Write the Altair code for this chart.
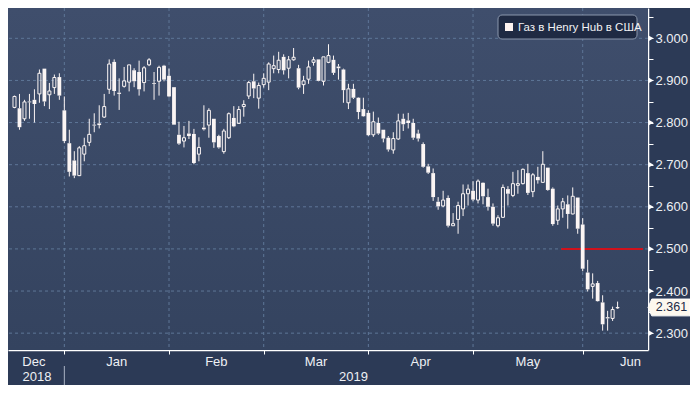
import altair as alt
import pandas as pd

# ---- data (one candle per trading day, Dec 2018 - Jun 2019) ----
opens = [2.836, 2.834, 2.809, 2.850, 2.854, 2.868, 2.928, 2.866, 2.883, 2.908,
         2.829, 2.751, 2.710, 2.674, 2.725, 2.753, 2.795, 2.798, 2.813, 2.879,
         2.944, 2.871, 2.886, 2.896, 2.924, 2.920, 2.895, 2.937, 2.894, 2.898,
         2.935, 2.911, 2.884, 2.771, 2.756, 2.774, 2.773, 2.725, 2.788, 2.794,
         2.809, 2.768, 2.731, 2.764, 2.811, 2.798, 2.838, 2.863, 2.898, 2.858,
         2.890, 2.896, 2.928, 2.926, 2.956, 2.929, 2.949, 2.929, 2.890, 2.903,
         2.943, 2.950, 2.898, 2.943, 2.949, 2.933, 2.926, 2.847, 2.880, 2.859,
         2.832, 2.823, 2.771, 2.799, 2.783, 2.764, 2.735, 2.761, 2.809, 2.805,
         2.799, 2.774, 2.749, 2.696, 2.680, 2.612, 2.602, 2.621, 2.555, 2.570,
         2.595, 2.631, 2.638, 2.616, 2.657, 2.623, 2.600, 2.555, 2.575, 2.642,
         2.627, 2.651, 2.655, 2.680, 2.636, 2.671, 2.658, 2.693, 2.643, 2.568,
         2.595, 2.606, 2.583, 2.622, 2.558, 2.444, 2.411, 2.419, 2.373, 2.338,
         2.335, 2.360]
highs = [2.864, 2.868, 2.854, 2.868, 2.879, 2.926, 2.928, 2.894, 2.914, 2.917,
         2.862, 2.783, 2.732, 2.744, 2.764, 2.809, 2.822, 2.841, 2.868, 2.950,
         2.950, 2.905, 2.932, 2.937, 2.929, 2.947, 2.934, 2.953, 2.920, 2.935,
         2.937, 2.928, 2.884, 2.802, 2.792, 2.804, 2.785, 2.765, 2.841, 2.834,
         2.809, 2.771, 2.785, 2.824, 2.839, 2.839, 2.853, 2.899, 2.916, 2.895,
         2.917, 2.943, 2.959, 2.968, 2.962, 2.958, 2.977, 2.937, 2.911, 2.947,
         2.956, 2.950, 2.956, 2.986, 2.959, 2.939, 2.928, 2.892, 2.892, 2.860,
         2.859, 2.829, 2.826, 2.812, 2.783, 2.768, 2.777, 2.821, 2.821, 2.823,
         2.809, 2.783, 2.753, 2.702, 2.691, 2.623, 2.638, 2.627, 2.585, 2.612,
         2.653, 2.653, 2.661, 2.665, 2.658, 2.643, 2.608, 2.580, 2.653, 2.649,
         2.683, 2.687, 2.691, 2.702, 2.680, 2.695, 2.732, 2.693, 2.646, 2.603,
         2.621, 2.627, 2.646, 2.622, 2.573, 2.474, 2.442, 2.424, 2.390, 2.353,
         2.363, 2.375]
lows = [2.834, 2.783, 2.804, 2.809, 2.800, 2.847, 2.839, 2.832, 2.868, 2.854,
        2.751, 2.672, 2.668, 2.673, 2.708, 2.744, 2.777, 2.786, 2.811, 2.868,
        2.864, 2.830, 2.883, 2.874, 2.884, 2.864, 2.874, 2.934, 2.854, 2.864,
        2.898, 2.860, 2.795, 2.747, 2.741, 2.761, 2.701, 2.708, 2.781, 2.764,
        2.740, 2.738, 2.726, 2.761, 2.789, 2.798, 2.814, 2.856, 2.858, 2.833,
        2.883, 2.877, 2.917, 2.917, 2.914, 2.905, 2.947, 2.879, 2.868, 2.892,
        2.935, 2.898, 2.888, 2.941, 2.913, 2.902, 2.847, 2.832, 2.856, 2.808,
        2.814, 2.768, 2.766, 2.771, 2.753, 2.731, 2.726, 2.759, 2.780, 2.786,
        2.759, 2.755, 2.693, 2.678, 2.614, 2.593, 2.599, 2.551, 2.555, 2.536,
        2.578, 2.603, 2.613, 2.608, 2.606, 2.591, 2.555, 2.551, 2.574, 2.603,
        2.623, 2.631, 2.653, 2.628, 2.623, 2.655, 2.658, 2.638, 2.555, 2.557,
        2.574, 2.548, 2.582, 2.536, 2.447, 2.399, 2.382, 2.375, 2.306, 2.306,
        2.329, 2.358]
closes = [2.862, 2.789, 2.849, 2.848, 2.844, 2.917, 2.850, 2.875, 2.907, 2.864,
          2.756, 2.683, 2.674, 2.740, 2.745, 2.772, 2.793, 2.794, 2.838, 2.939,
          2.875, 2.868, 2.899, 2.937, 2.898, 2.879, 2.930, 2.949, 2.892, 2.931,
          2.902, 2.862, 2.795, 2.750, 2.764, 2.768, 2.704, 2.741, 2.784, 2.829,
          2.753, 2.741, 2.780, 2.821, 2.791, 2.831, 2.843, 2.895, 2.881, 2.888,
          2.905, 2.939, 2.935, 2.948, 2.924, 2.949, 2.955, 2.883, 2.899, 2.932,
          2.949, 2.899, 2.956, 2.959, 2.918, 2.929, 2.877, 2.880, 2.859, 2.825,
          2.815, 2.770, 2.802, 2.774, 2.762, 2.736, 2.762, 2.804, 2.796, 2.799,
          2.764, 2.762, 2.695, 2.681, 2.623, 2.601, 2.616, 2.555, 2.560, 2.603,
          2.631, 2.642, 2.617, 2.661, 2.625, 2.600, 2.560, 2.574, 2.646, 2.631,
          2.655, 2.655, 2.689, 2.633, 2.676, 2.663, 2.701, 2.640, 2.559, 2.595,
          2.612, 2.583, 2.625, 2.548, 2.453, 2.404, 2.417, 2.376, 2.321, 2.335,
          2.356, 2.361]

# axis categories (positions are trading-day numbers)
month_labels = ["Dec", "Jan", "Feb", "Mar", "Apr", "May", "Jun"]
month_label_pos = [4.9, 21.5, 41.5, 61.5, 82.5, 104.0, 124.6]
month_start_pos = [11, 32, 51, 72, 93, 115]
year_labels = ["2018", "2019"]
year_label_pos = [5.5, 69.0]
year_break_pos = [11]
y_major = [2.3, 2.4, 2.5, 2.6, 2.7, 2.8, 2.9, 3.0]
y_ticks = [2.30, 2.35, 2.40, 2.45, 2.50, 2.55, 2.60, 2.65, 2.70, 2.75,
           2.80, 2.85, 2.90, 2.95, 3.00, 3.05]
legend_label = "Газ в Henry Hub в США"
red_level = [2.5]
red_from = [110.7]
red_to = [127.1]

# ---- layout / style ----
W, H = 640, 342
CW = "#fbf5f4"
GRID = "#5e7697"
FONT = "Liberation Sans"
xs = alt.Scale(domain=[0.7, 127.1], nice=False, zero=False)
ys = alt.Scale(domain=[2.26, 3.072], nice=False, zero=False)

xax = alt.Axis(values=month_start_pos, labels=False, title=None, grid=False,
               domainColor="#ffffff", domainWidth=1.5, tickColor="#ffffff",
               tickSize=4, tickWidth=1)
yax = alt.Axis(orient="right", values=y_ticks, title=None, grid=False,
               labelExpr="round(datum.value*100) % 10 == 0 ? format(datum.value, '.3f') : ''",
               labelOverlap=False, domainColor="#ffffff", domainWidth=1.5,
               tickColor="#ffffff", tickSize=5, labelColor="#eef0f4",
               labelFont=FONT, labelFontSize=13, labelPadding=2)

n = len(opens)
bars = pd.DataFrame({"i": list(range(1, n + 1)), "o": opens, "h": highs,
                     "l": lows, "c": closes})
bars["top"] = bars[["o", "c"]].max(axis=1)
bars["bot"] = bars[["o", "c"]].min(axis=1)
up = bars[bars["c"] >= bars["o"]]
down = bars[bars["c"] < bars["o"]]

X = lambda f: alt.X(f, scale=xs, axis=xax)
Y = lambda f: alt.Y(f, scale=ys, axis=yax)

grad = alt.Gradient(gradient="linear",
                    stops=[alt.GradientStop(color="#3f4e6c", offset=0),
                           alt.GradientStop(color="#34435f", offset=1)],
                    x1=0, x2=0, y1=0, y2=1)

bg = alt.Chart(pd.DataFrame({"k": [0]})).mark_rect(color=grad).encode(
    x=alt.value(0), x2=alt.value(W), y=alt.value(0), y2=alt.value(H))

vgrid = alt.Chart(pd.DataFrame({"m": month_start_pos})).mark_rule(
    color=GRID, strokeDash=[3, 3], strokeWidth=1).encode(x=X("m:Q"))
hgrid = alt.Chart(pd.DataFrame({"v": y_major})).mark_rule(
    color=GRID, strokeDash=[3, 3], strokeWidth=1).encode(y=Y("v:Q"))

red = alt.Chart(pd.DataFrame({"a": red_from, "b": red_to, "v": red_level})).mark_rule(
    color="#d0121c", strokeWidth=2).encode(x=X("a:Q"), x2="b:Q", y=Y("v:Q"))

wick_hi = alt.Chart(bars).mark_rule(color=CW, strokeWidth=1).encode(
    x=X("i:Q"), y=Y("h:Q"), y2="top:Q")
wick_lo = alt.Chart(bars).mark_rule(color=CW, strokeWidth=1).encode(
    x=X("i:Q"), y=Y("bot:Q"), y2="l:Q")
body_dn = alt.Chart(down).mark_bar(size=3.8, color=CW).encode(
    x=X("i:Q"), y=Y("o:Q"), y2="c:Q")
body_up = alt.Chart(up).mark_bar(size=3, fillOpacity=0, stroke=CW, strokeWidth=1).encode(
    x=X("i:Q"), y=Y("o:Q"), y2="c:Q")

tri = alt.Chart(pd.DataFrame({"v": y_major})).mark_point(
    shape="triangle-right", filled=True, color="#ffffff", size=34, opacity=1).encode(
    x=alt.value(W + 3), y=Y("v:Q"))

last = pd.DataFrame({"p": [closes[-1]], "t": [f"{closes[-1]:.3f}"]})
tag = alt.Chart(last).mark_point(
    shape="M -1 0 L -0.82 -0.4 L 1 -0.4 L 1 0.4 L -0.82 0.4 Z",
    filled=True, fill="#fdf8ee", stroke="#ffffff", strokeWidth=1, size=1764,
    opacity=1).encode(x=alt.value(W + 21), y=Y("p:Q"))
tag_txt = alt.Chart(last).mark_text(
    color="#1c2944", font=FONT, fontSize=12.5, align="center", baseline="middle").encode(
    x=alt.value(W + 23.5), y=Y("p:Q"), text="t:N")

mon = alt.Chart(pd.DataFrame({"p": month_label_pos, "t": month_labels})).mark_text(
    color="#eef0f4", font=FONT, fontSize=13, baseline="middle").encode(
    x=X("p:Q"), y=alt.value(H + 12), text="t:N")
yr = alt.Chart(pd.DataFrame({"p": year_label_pos, "t": year_labels})).mark_text(
    color="#eef0f4", font=FONT, fontSize=13, baseline="middle").encode(
    x=X("p:Q"), y=alt.value(H + 27), text="t:N")
ysep = alt.Chart(pd.DataFrame({"p": year_break_pos})).mark_rule(
    color="#aab4c4", strokeWidth=1).encode(
    x=X("p:Q"), y=alt.value(H + 16), y2=alt.value(H + 35))

leg_df = pd.DataFrame({"t": [legend_label]})
leg_box = alt.Chart(leg_df).mark_rect(
    fill="#1f2a43", stroke="#8b97ad", strokeWidth=1, cornerRadius=4).encode(
    x=alt.value(490), x2=alt.value(629), y=alt.value(7), y2=alt.value(31))
leg_sq = alt.Chart(leg_df).mark_rect(fill="#fdf3f0").encode(
    x=alt.value(497), x2=alt.value(505), y=alt.value(15), y2=alt.value(23))
leg_txt = alt.Chart(leg_df).mark_text(
    color="#f2f2f4", font=FONT, fontSize=11.5, align="left", baseline="middle").encode(
    x=alt.value(510), y=alt.value(19.5), text="t:N")

chart = alt.layer(
    bg, vgrid, hgrid, red, wick_hi, wick_lo, body_dn, body_up, tri, tag, tag_txt,
    mon, yr, ysep, leg_box, leg_sq, leg_txt
).properties(
    width=W, height=H,
    autosize=alt.AutoSizeParams(type="none"),
    padding={"left": 0, "top": 0, "right": 42, "bottom": 35},
).configure(background="#2c3a56").configure_view(strokeWidth=0)

chart.save("out.html", embed_options={"renderer": "svg", "actions": False})
